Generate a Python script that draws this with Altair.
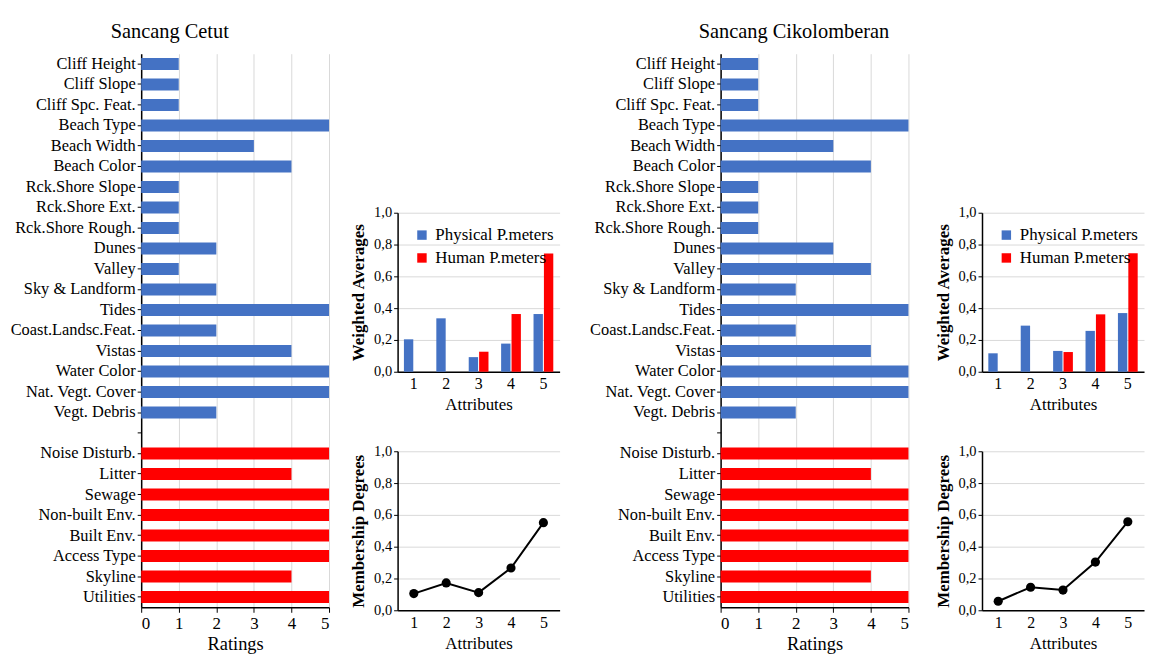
import altair as alt
import pandas as pd

# ---------------- data ----------------
physical_params = ["Cliff Height", "Cliff Slope", "Cliff Spc. Feat.", "Beach Type", "Beach Width",
                   "Beach Color", "Rck.Shore Slope", "Rck.Shore Ext.", "Rck.Shore Rough.", "Dunes",
                   "Valley", "Sky & Landform", "Tides", "Coast.Landsc.Feat.", "Vistas", "Water Color",
                   "Nat. Vegt. Cover", "Vegt. Debris"]
human_params = ["Noise Disturb.", "Litter", "Sewage", "Non-built Env.", "Built Env.",
                "Access Type", "Skyline", "Utilities"]
gap_label = " "

cetut_physical = [1, 1, 1, 5, 3, 4, 1, 1, 1, 2, 1, 2, 5, 2, 4, 5, 5, 2]
cetut_human = [5, 4, 5, 5, 5, 5, 4, 5]
ciko_physical = [1, 1, 1, 5, 3, 4, 1, 1, 1, 3, 4, 2, 5, 2, 4, 5, 5, 2]
ciko_human = [5, 4, 5, 5, 5, 5, 4, 5]

attributes = ["1", "2", "3", "4", "5"]
series_names = ["Physical P.meters", "Human P.meters"]
cetut_wavg_physical = [0.204, 0.336, 0.092, 0.177, 0.363]
cetut_wavg_human = [0.0, 0.0, 0.126, 0.363, 0.743]
ciko_wavg_physical = [0.116, 0.290, 0.131, 0.257, 0.369]
ciko_wavg_human = [0.0, 0.0, 0.124, 0.361, 0.745]
cetut_membership = [0.105, 0.172, 0.111, 0.266, 0.551]
ciko_membership = [0.057, 0.145, 0.127, 0.303, 0.557]

titles = ["Sancang Cetut", "Sancang Cikolomberan"]

# ---------------- style ----------------
FONT = "Liberation Serif, Times New Roman, serif"
BLUE = "#4472C4"
RED = "#FF0000"
GRID = "#D9D9D9"
comma_expr = "replace(format(datum.value, '.1f'), '.', ',')"


def ratings_chart(title, phys_vals, hum_vals, title_dx):
    df = pd.DataFrame({
        "param": physical_params + human_params,
        "rating": phys_vals + hum_vals,
        "group": ["Physical"] * len(physical_params) + ["Human"] * len(human_params),
    })
    order = physical_params + [gap_label] + human_params
    return alt.Chart(df).mark_bar().encode(
        x=alt.X("rating:Q",
                scale=alt.Scale(domain=[0, 5], nice=False),
                axis=alt.Axis(values=[0, 1, 2, 3, 4, 5], format="d", title="Ratings",
                              labelFontSize=17, titleFontSize=18.5, tickSize=5, labelPadding=3,
                              titlePadding=3, grid=True)),
        y=alt.Y("param:N",
                scale=alt.Scale(domain=order, paddingInner=0.42, paddingOuter=0.21),
                axis=alt.Axis(title=None, labelFontSize=16.5, tickSize=4, labelPadding=2,
                              grid=False, labelLimit=300)),
        color=alt.Color("group:N", scale=alt.Scale(domain=["Physical", "Human"], range=[BLUE, RED]),
                        legend=None),
    ).properties(
        width=189, height=557,
        title=alt.TitleParams(title, fontSize=20.5, font=FONT, fontWeight="normal", color="black",
                              frame="bounds", anchor="middle", offset=11, dx=title_dx),
    )


def y_axis(title):
    return alt.Axis(values=[0, 0.2, 0.4, 0.6, 0.8, 1.0], labelExpr=comma_expr, title=title,
                    titleFontWeight="bold", titleFontSize=17, titlePadding=6, labelFontSize=14.5,
                    tickSize=4, grid=True)


def x_axis():
    return alt.Axis(title="Attributes", labelAngle=0, ticks=False, labelFontSize=16, labelPadding=4,
                    titleFontSize=17, titlePadding=5, grid=False)


def wavg_chart(phys, hum):
    df = pd.DataFrame({
        "attr": attributes * 2,
        "value": phys + hum,
        "series": [series_names[0]] * 5 + [series_names[1]] * 5,
    })
    return alt.Chart(df).mark_bar().encode(
        x=alt.X("attr:N", scale=alt.Scale(domain=attributes, paddingInner=0.39, paddingOuter=0.195),
                axis=x_axis()),
        xOffset=alt.XOffset("series:N", scale=alt.Scale(domain=series_names, paddingInner=0.1)),
        y=alt.Y("value:Q", scale=alt.Scale(domain=[0, 1], nice=False), axis=y_axis("Weighted Averages")),
        color=alt.Color("series:N", scale=alt.Scale(domain=series_names, range=[BLUE, RED]),
                        legend=alt.Legend(title=None, orient="none", legendX=16, legendY=14,
                                          symbolType="square", symbolSize=90, labelFontSize=17,
                                          labelFont=FONT, labelColor="black", rowPadding=5,
                                          symbolStrokeWidth=0, labelOffset=5)),
    ).properties(width=163, height=160)


def membership_chart(vals):
    df = pd.DataFrame({"attr": attributes, "value": vals})
    base = alt.Chart(df).encode(
        x=alt.X("attr:N", scale=alt.Scale(type="point", domain=attributes, padding=0.5), axis=x_axis()),
        y=alt.Y("value:Q", scale=alt.Scale(domain=[0, 1], nice=False), axis=y_axis("Membership Degrees")),
    )
    line = base.mark_line(color="black", strokeWidth=2)
    pts = base.mark_point(filled=True, color="black", size=85, opacity=1)
    return alt.layer(line, pts).properties(width=163, height=160)


def spacer():
    return alt.Chart(pd.DataFrame({"v": [0]})).mark_point(opacity=0).encode(
        x=alt.value(0), y=alt.value(0)
    ).properties(width=163, height=126)


def column(wphys, whum, memb):
    pair = alt.vconcat(wavg_chart(wphys, whum), membership_chart(memb), spacing=29).resolve_scale(
        color="independent", x="independent", y="independent", xOffset="independent")
    return alt.vconcat(spacer(), pair, spacing=24).resolve_scale(
        color="independent", x="independent", y="independent", xOffset="independent")


left = alt.hconcat(
    ratings_chart(titles[0], cetut_physical, cetut_human, 0),
    column(cetut_wavg_physical, cetut_wavg_human, cetut_membership),
    spacing=19,
).resolve_scale(color="independent")

right = alt.hconcat(
    ratings_chart(titles[1], ciko_physical, ciko_human, 45),
    column(ciko_wavg_physical, ciko_wavg_human, ciko_membership),
    spacing=24,
).resolve_scale(color="independent")

chart = alt.hconcat(left, right, spacing=28).resolve_scale(color="independent").properties(
    padding={"left": 1, "top": 12, "right": 0, "bottom": 0}
).configure_view(stroke="transparent").configure_axis(
    labelFont=FONT, titleFont=FONT, labelColor="black", titleColor="black",
    domainColor="black", tickColor="black", gridColor=GRID, domainWidth=1.5,
    titleFontWeight="normal",
).configure_legend(labelFont=FONT).configure_title(font=FONT)

chart.save("out.html", embed_options={"renderer": "svg", "actions": False})
